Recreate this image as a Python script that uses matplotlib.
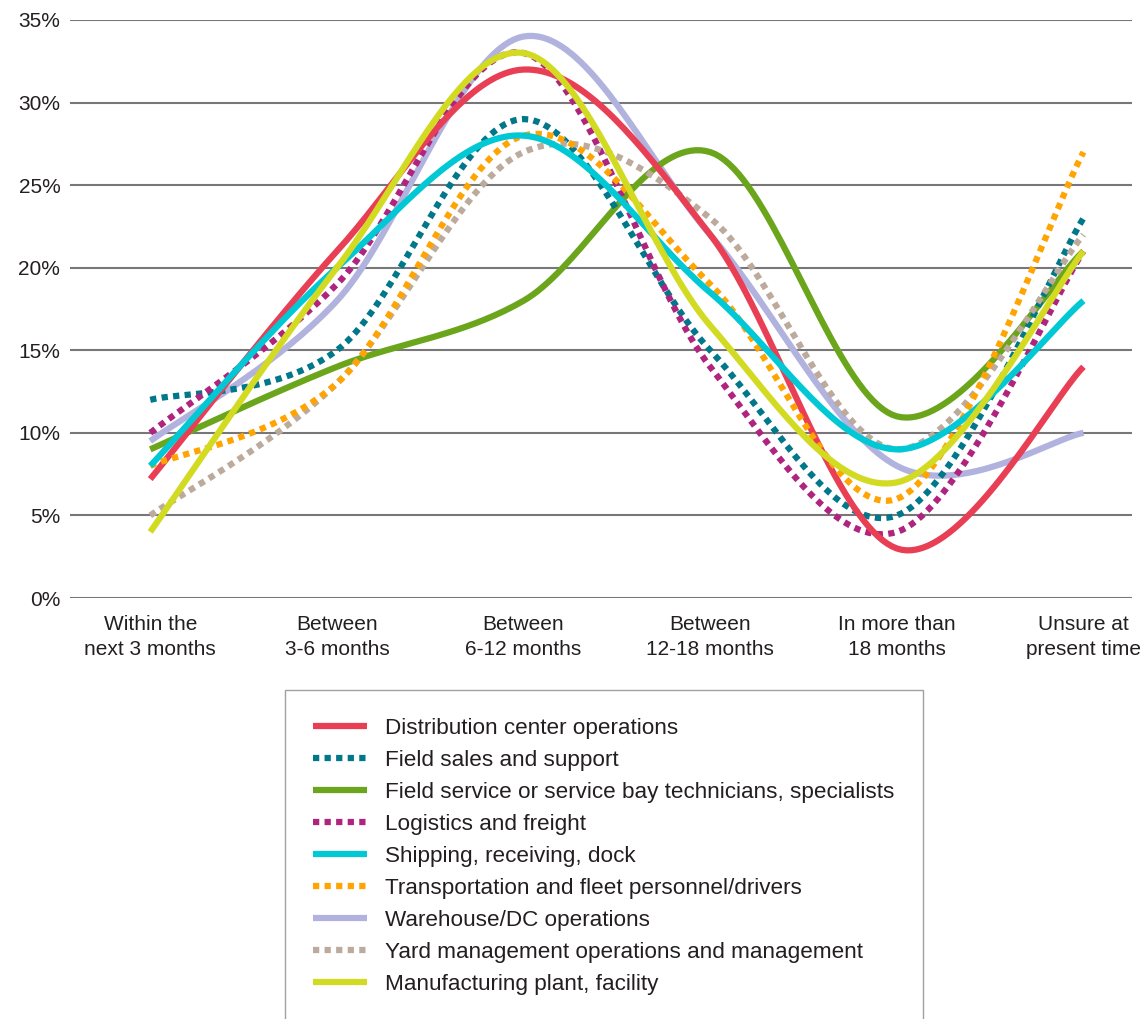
import numpy as np
import matplotlib.pyplot as plt
from matplotlib.ticker import FuncFormatter

plt.rcParams['font.family'] = ['Liberation Sans', 'DejaVu Sans']

categories = ["Within the\nnext 3 months", "Between\n3-6 months", "Between\n6-12 months",
              "Between\n12-18 months", "In more than\n18 months", "Unsure at\npresent time"]

dist_center = [7.2, 21, 32, 22, 3, 14]
field_sales = [12, 15, 29, 15, 5, 23]
field_service = [9, 14, 18, 27, 11, 21]
logistics = [10, 19, 33, 14, 4, 21]
shipping = [8, 20, 28, 18.5, 9, 18]
transport = [8, 13, 28, 19, 6, 27]
warehouse = [9.5, 18, 34, 22, 8, 10]
yard = [5, 13, 27, 23, 9, 22]
manufacturing = [4, 20, 33, 16.5, 7, 21]

series = [
    ("Distribution center operations", dist_center, "#E83F55", "-"),
    ("Field sales and support", field_sales, "#00788A", ":"),
    ("Field service or service bay technicians, specialists", field_service, "#6BA51B", "-"),
    ("Logistics and freight", logistics, "#B0237F", ":"),
    ("Shipping, receiving, dock", shipping, "#00C8D4", "-"),
    ("Transportation and fleet personnel/drivers", transport, "#FFA400", ":"),
    ("Warehouse/DC operations", warehouse, "#B1B3DE", "-"),
    ("Yard management operations and management", yard, "#BCAA9C", ":"),
    ("Manufacturing plant, facility", manufacturing, "#D2DB22", "-"),
]

# lower zorder for some lines so overlaps look like the original
zorders = [6, 4, 3, 5, 7, 6, 2, 5, 9]


def smooth(xs, ys, n=40):
    # catmull-rom style bezier, like excel "smoothed line"
    xs = np.asarray(xs, float)
    ys = np.asarray(ys, float)
    px = np.concatenate([[xs[0]], xs, [xs[-1]]])
    py = np.concatenate([[ys[0]], ys, [ys[-1]]])
    out_x, out_y = [], []
    t = np.linspace(0, 1, n)
    for i in range(1, len(px) - 2):
        x0, x1, x2, x3 = px[i - 1], px[i], px[i + 1], px[i + 2]
        y0, y1, y2, y3 = py[i - 1], py[i], py[i + 1], py[i + 2]
        c1x, c1y = x1 + (x2 - x0) / 6, y1 + (y2 - y0) / 6
        c2x, c2y = x2 - (x3 - x1) / 6, y2 - (y3 - y1) / 6
        bx = (1 - t) ** 3 * x1 + 3 * (1 - t) ** 2 * t * c1x + 3 * (1 - t) * t ** 2 * c2x + t ** 3 * x2
        by = (1 - t) ** 3 * y1 + 3 * (1 - t) ** 2 * t * c1y + 3 * (1 - t) * t ** 2 * c2y + t ** 3 * y2
        out_x.extend(bx)
        out_y.extend(by)
    return out_x, out_y


fig = plt.figure(figsize=(11.48, 10.19), dpi=100)
ax = fig.add_axes([70 / 1148, 1 - 598 / 1019, 1062 / 1148, 578 / 1019])

x = np.arange(len(categories))
handles = []
for (name, vals, col, ls), z in zip(series, zorders):
    sx, sy = smooth(x, vals)
    if ls == ":":
        h, = ax.plot(sx, sy, color=col, lw=4.5, linestyle=(0, (1, 0.85)),
                     dash_capstyle='butt', zorder=z, label=name)
    else:
        h, = ax.plot(sx, sy, color=col, lw=4.5, solid_capstyle='butt', zorder=z, label=name)
    handles.append(h)

ax.set_ylim(0, 35)
ax.set_yticks(np.arange(0, 36, 5))
ax.yaxis.set_major_formatter(FuncFormatter(lambda v, p: f"{int(v)}%"))
ax.set_xlim(-0.43, 5.26)
ax.set_xticks(x)
ax.set_xticklabels(categories, linespacing=1.45)
ax.tick_params(axis='both', length=0, labelsize=15, colors='#231F20')
ax.tick_params(axis='y', pad=7)
ax.tick_params(axis='x', pad=12)
ax.grid(axis='y', color='#77777A', lw=1.5)
ax.set_axisbelow(True)
for s in ax.spines.values():
    s.set_visible(False)

leg = fig.legend(handles=handles, loc='upper left',
                 bbox_to_anchor=(285 / 1148, 1 - 690 / 1019),
                 fontsize=16.2, frameon=True, fancybox=False, edgecolor='#8A8A8A',
                 handlelength=2.4, handletextpad=0.8, labelspacing=0.49,
                 borderpad=1.25, borderaxespad=0)
leg.get_frame().set_linewidth(1.0)
for t in leg.get_texts():
    t.set_color('#231F20')

fig.savefig("out.png", dpi=100)
